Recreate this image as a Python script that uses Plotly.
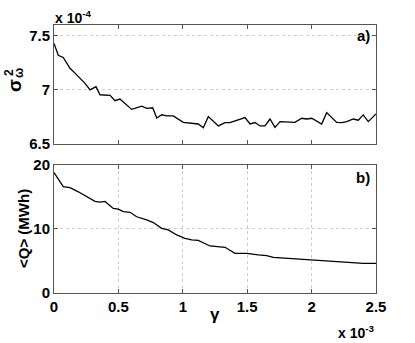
import plotly.graph_objects as go
from plotly.subplots import make_subplots

# panel a) variance of omega (x 1e-4) vs gamma (x 1e-3)
gamma_a = [0, 0.033, 0.072, 0.124, 0.163, 0.241, 0.280, 0.326, 0.357, 0.435, 0.474, 0.512,
           0.603, 0.681, 0.720, 0.766, 0.798, 0.836, 0.875, 0.926, 1.004, 1.056, 1.120, 1.159,
           1.198, 1.276, 1.328, 1.366, 1.444, 1.483, 1.522, 1.561, 1.599, 1.638, 1.677, 1.716,
           1.755, 1.832, 1.871, 1.923, 1.962, 2.001, 2.078, 2.117, 2.195, 2.234, 2.273, 2.324,
           2.363, 2.401, 2.440, 2.5]
sigma2 = [7.43, 7.32, 7.30, 7.20, 7.155, 7.06, 7.00, 7.03, 6.955, 6.95, 6.90, 6.915,
          6.82, 6.85, 6.83, 6.835, 6.74, 6.77, 6.76, 6.76, 6.70, 6.695, 6.685, 6.65,
          6.753, 6.667, 6.698, 6.698, 6.731, 6.744, 6.685, 6.698, 6.667, 6.667, 6.731, 6.654,
          6.707, 6.698, 6.70, 6.738, 6.731, 6.738, 6.685, 6.79, 6.70, 6.698, 6.707, 6.731,
          6.72, 6.769, 6.707, 6.778]

# panel b) mean Q (MWh) vs gamma
gamma_b = [0, 0.072, 0.124, 0.189, 0.318, 0.357, 0.396, 0.460, 0.499, 0.538, 0.590, 0.642,
           0.720, 0.771, 0.836, 0.887, 0.953, 1.017, 1.069, 1.120, 1.211, 1.328, 1.405, 1.496,
           1.586, 1.651, 1.703, 1.755, 1.807, 1.910, 2.013, 2.117, 2.220, 2.324, 2.401, 2.5]
mean_q = [18.8, 16.6, 16.45, 15.8, 14.3, 14.2, 14.3, 13.2, 13.1, 12.7, 12.6, 11.9,
          11.4, 11.0, 10.1, 9.84, 9.06, 8.54, 8.28, 8.2, 7.34, 7.14, 6.2, 6.2,
          5.94, 5.84, 5.57, 5.5, 5.42, 5.26, 5.16, 5.0, 4.9, 4.8, 4.64, 4.64]

x_ticks = [0, 0.5, 1, 1.5, 2, 2.5]
x_labels = ["0", "0.5", "1", "1.5", "2", "2.5"]
a_ticks = [6.5, 7, 7.5]
a_labels = ["6.5", "7", "7.5"]
b_ticks = [0, 10, 20]
b_labels = ["0", "10", "20"]

FONT = "Liberation Sans, Arial, sans-serif"
frame = "#555555"
grid = "#cccccc"

fig = make_subplots(rows=2, cols=1)
fig.add_trace(go.Scatter(x=gamma_a, y=sigma2, mode="lines",
                         line=dict(color="black", width=1.3)), row=1, col=1)
fig.add_trace(go.Scatter(x=gamma_b, y=mean_q, mode="lines",
                         line=dict(color="black", width=1.3)), row=2, col=1)

axis_common = dict(showline=True, linecolor=frame, linewidth=1, mirror="ticks",
                   ticks="inside", ticklen=4, tickcolor=frame, zeroline=False,
                   tickfont=dict(family=FONT, size=15, color="black", weight="bold"))

fig.update_xaxes(range=[0, 2.5], tickvals=x_ticks, **axis_common)
fig.update_xaxes(showticklabels=False, showgrid=False, row=1, col=1)
fig.update_xaxes(ticktext=x_labels, showgrid=True, gridcolor=grid, griddash="dot",
                 gridwidth=1, row=2, col=1)
fig.update_yaxes(range=[6.5, 7.6], tickvals=a_ticks, ticktext=a_labels, showgrid=True,
                 gridcolor=grid, griddash="dot", gridwidth=1, row=1, col=1, **axis_common)
fig.update_yaxes(range=[0, 20], tickvals=b_ticks, ticktext=b_labels, showgrid=True,
                 gridcolor=grid, griddash="dot", gridwidth=1, row=2, col=1, **axis_common)

fig.update_layout(
    width=415, height=343,
    margin=dict(l=54, r=39, t=25, b=50),
    plot_bgcolor="white", paper_bgcolor="white",
    showlegend=False,
    xaxis=dict(domain=[0, 1]), xaxis2=dict(domain=[0, 1]),
    yaxis=dict(domain=[0.556, 1]), yaxis2=dict(domain=[0, 0.478]),
)

def note(text, x, y, size=14, angle=0, xanchor="center", yanchor="middle"):
    fig.add_annotation(text=text, xref="paper", yref="paper", x=x, y=y, showarrow=False,
                       textangle=angle, xanchor=xanchor, yanchor=yanchor,
                       font=dict(family=FONT, size=size, color="black", weight="bold"))

# page pixel -> paper coordinate
def px_x(p):
    return (p - 54) / 322

def px_y(p):
    return (293 - p) / 268

note("x 10<sup>-4</sup>", px_x(53), px_y(17), size=14, xanchor="left")
note("x 10<sup>-3</sup>", px_x(377), px_y(332), size=14, xanchor="right")
note("a)", px_x(372), px_y(36), size=15, xanchor="right")
note("b)", px_x(372), px_y(177), size=15, xanchor="right")
note("γ", px_x(215), px_y(314), size=17)
note("<Q> (MWh)", px_x(23), px_y(229), size=15, angle=-90)
note("σ", px_x(14), px_y(86), size=19, angle=-90)
note("2", px_x(9), px_y(73), size=12, angle=-90)
note("ω", px_x(19), px_y(73), size=12, angle=-90)

# drop the default body margin so the figure sits at the page corner
fig.write_html("out.html", config={"displayModeBar": False},
               post_script="document.body.style.margin='0';")
